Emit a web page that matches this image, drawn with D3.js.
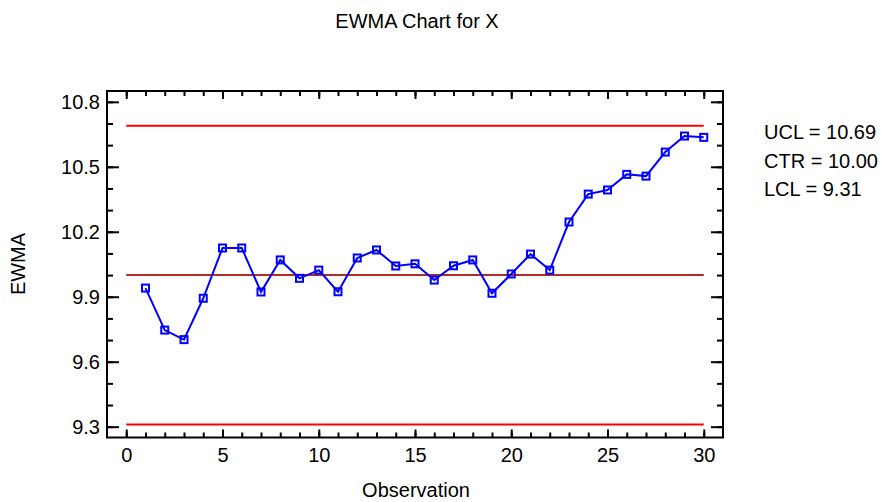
<!DOCTYPE html>
<html>
<head>
<meta charset="utf-8">
<script src="https://cdn.jsdelivr.net/npm/d3@7"></script>
<style>
  html, body { margin: 0; padding: 0; background: #ffffff; }
  svg { display: block; }
  text { font-family: "Liberation Sans", Arial, sans-serif; fill: #000; }
</style>
</head>
<body>
<svg id="chart" width="885" height="502"></svg>
<script>
// ---- Data ----
const observations = [1,2,3,4,5,6,7,8,9,10,11,12,13,14,15,16,17,18,19,20,21,22,23,24,25,26,27,28,29,30];
const ewmaValues = [9.940, 9.746, 9.702, 9.893, 10.125, 10.125, 9.922, 10.070, 9.985, 10.023,
                    9.923, 10.079, 10.116, 10.042, 10.052, 9.977, 10.043, 10.070, 9.916, 10.005,
                    10.097, 10.023, 10.245, 10.374, 10.393, 10.465, 10.457, 10.568, 10.642, 10.636];
const uclValue = 10.69;
const ctrValue = 10.00;
const lclValue = 9.31;
const legendLabels = ["UCL = 10.69", "CTR = 10.00", "LCL = 9.31"];
const xTickValues = [0, 5, 10, 15, 20, 25, 30];
const xMinorTickValues = [0,1,2,3,4,5,6,7,8,9,10,11,12,13,14,15,16,17,18,19,20,21,22,23,24,25,26,27,28,29,30];
const yTickValues = [9.3, 9.6, 9.9, 10.2, 10.5, 10.8];
const yTickLabels = ["9.3", "9.6", "9.9", "10.2", "10.5", "10.8"];
const yMinorTickValues = [9.3,9.4,9.5,9.6,9.7,9.8,9.9,10.0,10.1,10.2,10.3,10.4,10.5,10.6,10.7,10.8];
const titleText = "EWMA Chart for X";
const xAxisTitle = "Observation";
const yAxisTitle = "EWMA";

// ---- Layout ----
const plotL = 107, plotR = 723, plotT = 91, plotB = 437.5;
const svg = d3.select("#chart");

const x = d3.scaleLinear().domain([-1, 31]).range([plotL, plotR]);
const y = d3.scaleLinear().domain([9.25, 10.85]).range([plotB, plotT]);

// Title
svg.append("text").attr("x", 417).attr("y", 28).attr("text-anchor", "middle")
  .style("font-size", "20px").text(titleText);

function styleAxis(g) {
  g.select(".domain").remove();
  g.selectAll(".tick line").attr("stroke", "#000").attr("stroke-width", 2);
  g.selectAll(".tick text").style("font-size", "20px")
    .style("font-family", "'Liberation Sans', Arial, sans-serif").attr("fill", "#000");
}

// left
svg.append("g").attr("transform", `translate(${plotL},0)`)
  .call(d3.axisLeft(y).tickValues(yMinorTickValues).tickSize(-6).tickFormat(""))
  .call(styleAxis);
svg.append("g").attr("transform", `translate(${plotL},0)`)
  .call(d3.axisLeft(y).tickValues(yTickValues).tickSize(-12).tickPadding(7)
        .tickFormat((d, i) => yTickLabels[i]))
  .call(styleAxis);
// right
svg.append("g").attr("transform", `translate(${plotR},0)`)
  .call(d3.axisRight(y).tickValues(yMinorTickValues).tickSize(-6).tickFormat(""))
  .call(styleAxis);
svg.append("g").attr("transform", `translate(${plotR},0)`)
  .call(d3.axisRight(y).tickValues(yTickValues).tickSize(-12).tickFormat(""))
  .call(styleAxis);
// bottom
svg.append("g").attr("transform", `translate(0,${plotB})`)
  .call(d3.axisBottom(x).tickValues(xMinorTickValues).tickSize(-5).tickFormat(""))
  .call(styleAxis);
svg.append("g").attr("transform", `translate(0,${plotB})`)
  .call(d3.axisBottom(x).tickValues(xTickValues).tickSize(-8).tickPadding(10).tickFormat(d3.format("d")))
  .call(styleAxis);
// top
svg.append("g").attr("transform", `translate(0,${plotT})`)
  .call(d3.axisTop(x).tickValues(xMinorTickValues).tickSize(-5).tickFormat(""))
  .call(styleAxis);
svg.append("g").attr("transform", `translate(0,${plotT})`)
  .call(d3.axisTop(x).tickValues(xTickValues).tickSize(-8).tickFormat(""))
  .call(styleAxis);

// Frame
svg.append("rect").attr("x", plotL).attr("y", plotT)
  .attr("width", plotR - plotL).attr("height", plotB - plotT)
  .attr("fill", "none").attr("stroke", "#000").attr("stroke-width", 2);

// Control lines
const limits = [
  {v: uclValue, c: "#ff0000"},
  {v: ctrValue, c: "#b22a2a"},
  {v: lclValue, c: "#ff0000"}
];
svg.append("g").selectAll("line").data(limits).join("line")
  .attr("x1", x(0)).attr("x2", x(30))
  .attr("y1", d => y(d.v)).attr("y2", d => y(d.v))
  .attr("stroke", d => d.c).attr("stroke-width", 2);

// Series line
const pts = observations.map((o, i) => [o, ewmaValues[i]]);
svg.append("path").datum(pts)
  .attr("fill", "none").attr("stroke", "#0000ff").attr("stroke-width", 2)
  .attr("d", d3.line().x(d => x(d[0])).y(d => y(d[1])));

// Markers
const ms = 7;
svg.append("g").selectAll("rect").data(pts).join("rect")
  .attr("x", d => x(d[0]) - ms / 2).attr("y", d => y(d[1]) - ms / 2)
  .attr("width", ms).attr("height", ms)
  .attr("fill", "none").attr("stroke", "#0000ff").attr("stroke-width", 2);

// Axis titles
svg.append("text").attr("x", 416).attr("y", 497).attr("text-anchor", "middle")
  .style("font-size", "20px").text(xAxisTitle);
svg.append("text").attr("transform", "translate(25,264) rotate(-90)").attr("text-anchor", "middle")
  .style("font-size", "20px").text(yAxisTitle);

// Legend
const legendY = [139, 167.5, 196];
svg.append("g").selectAll("text").data(legendLabels).join("text")
  .attr("x", 764).attr("y", (d, i) => legendY[i])
  .style("font-size", "20px").text(d => d);
</script>
</body>
</html>
